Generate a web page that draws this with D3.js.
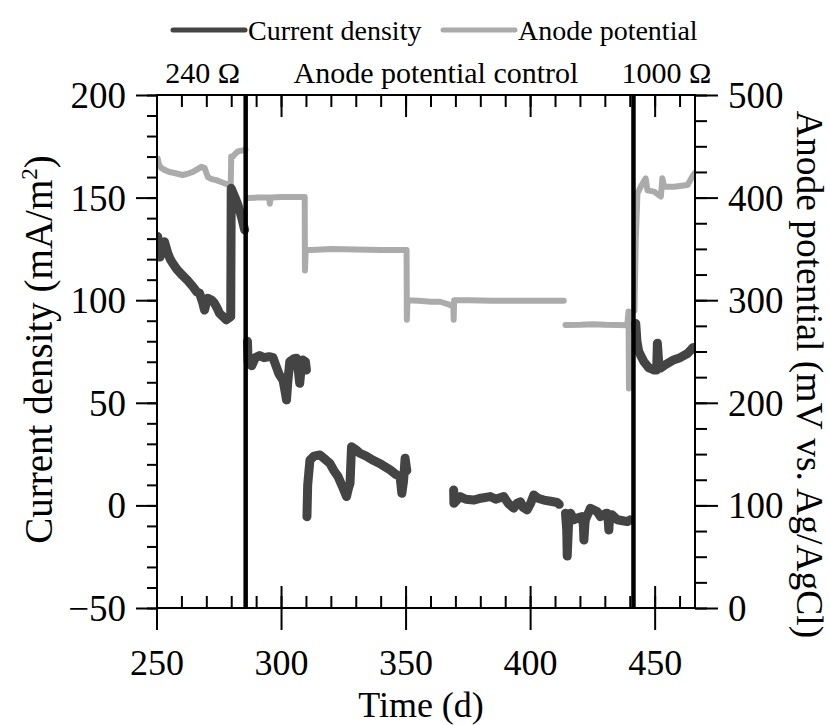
<!DOCTYPE html>
<html><head><meta charset="utf-8">
<script src="https://cdn.jsdelivr.net/npm/d3@7"></script>
<style>body{margin:0;background:#fff}svg{display:block}</style>
</head><body><svg id="c" width="830" height="725"></svg>
<script>
// ---- data ----
const cdDays = [250.3,250.8,251.2,252,253,254.3,255.3,256.3,258,260.3,262,264.4,266,267.1,268.3,269.1,269.8,270.4,272,273.1,274.2,275.1,276.5,277.8,279.1,279.6,279.8,281.2,282.5,283.9,285.2,null,
  286.3,286.6,288,289.5,291.2,293,295,296.6,297.9,299,300.6,301.5,302,302.5,303.3,305,306,306.8,307.3,307.8,308.5,309.6,310,null,
  310.2,310.5,311.4,313,315.4,317,319.4,321,322.7,324.5,326.1,326.8,327.5,328.1,330,331.5,334,336.8,340,343.6,346,347.6,348.3,349,349.6,350.3,null,
  369.1,369.2,371.7,374,377.1,380,383.8,386,389.2,391,393.2,394.5,395.9,397,398.6,400,401.3,403,405.3,408,410.7,411.5,null,
  414,414.5,414.7,415.2,416,417.4,419,420.7,421.2,421.4,421.8,422,424,425,426.7,428,430,430.7,431.2,431.4,431.7,432.7,434.8,437,438.8,440,null,
  442.2,442.7,443.4,445.5,447.5,449.6,450.6,450.9,451.4,452.3,454,457.6,460,463,465.3,466];
const cdValues = [131,124,121,127,128.5,123,120,118,115,112,110,106.6,104,103.4,99,95.2,99,101,100,98.5,96,93.6,92,90.4,91.5,92,154.5,150.4,146.4,140.7,134.2,null,
  80,70,68,72,73,72,72.5,72,67.6,64,61,55,51.4,60,70,71.5,71.7,65,59.5,66,70.9,70,66,null,
  -5.5,10,22,24,24.6,23,20.5,17,14,9,4.3,8,10.8,28.6,27,25.4,24,22,20,17.3,15,14,5.9,12,23,17,null,
  7.5,1,4.3,3,2.6,3.5,4.3,3,4.3,1,-1.4,1,1.8,-1,-2.2,1,5.1,3.5,2.6,2,1.4,0.5,null,
  -3.8,-12,-24.7,-10,-3.8,-7,-6,-5.4,-10,-16.9,-9,-7,-1.4,-2,-3,-5.4,-4,-3.8,-8,-12,-6,-4.6,-7,-7.5,-7.9,-7,null,
  88.7,80,75,70,67,66,66,79,70,67,68.5,71,72,74,77,76];

const apDays = [250.3,250.8,251.7,253,255,257,260.3,262,264.4,266.5,267.8,269.1,270.4,272,273.8,276,279.1,279.6,279.8,280.5,281.5,282.5,284.5,285.5,null,
  286.5,290,293,295,295.3,295.7,300,305,309.3,309.4,309.7,312,320,330,340,350.2,350.3,350.6,355,360,363.7,367,369,369.1,369.3,375,385,395,405,413.3,null,
  414,420,425,430,435,438.8,439.3,439.5,439.7,440.2,null,
  441.7,442.2,442.9,444.2,445.5,446.2,446.9,449.6,452.3,452.9,453.6,457.6,463,465.3,466];
const apValues = [438,432,429,427,425,424,422,423,425,428,430,429,420,418,417,415,412,413,440,440,443,445,446,447,null,
  399.5,400,400,400,394,400,400.5,400.5,400.5,329,349,349,350,349.5,349,349,281,300,299.5,298.5,298.5,296,293.7,281,300,300,299.5,299.5,299.5,299.5,null,
  275.8,276,276.5,276,275.8,275.5,289,214,276,276,null,
  290,358,404,410.6,416,418.8,407,405.8,401,418.8,410.6,410.6,412.3,422,424];

const switchDays = [285.6, 441.3];
const phaseLabels = ["240 Ω", "Anode potential control", "1000 Ω"];
const phaseLabelDays = [268.3, 362, 454.5];
const xTicks = [250, 300, 350, 400, 450];
const yLeftTicks = [-50, 0, 50, 100, 150, 200];
const yRightTicks = [0, 100, 200, 300, 400, 500];
const seriesNames = ["Current density", "Anode potential"];
const seriesColors = ["#444444", "#ababab"];

// ---- layout ----
const FF = "Liberation Serif";
const L = 157, R = 695, T = 95, B = 608;
const svg = d3.select("#c");
const x = d3.scaleLinear().domain([250, 466]).range([L, R]);
const yL = d3.scaleLinear().domain([-50, 200]).range([B, T]);
const yR = d3.scaleLinear().domain([0, 500]).range([B, T]);

const cdData = cdDays.map((d, i) => ({x: d, y: cdValues[i]}));
const apData = apDays.map((d, i) => ({x: d, y: apValues[i]}));

svg.append("clipPath").attr("id", "pc").append("rect")
  .attr("x", L).attr("y", T).attr("width", R - L).attr("height", B - T);
const plot = svg.append("g").attr("clip-path", "url(#pc)");

plot.append("path").datum(apData)
  .attr("d", d3.line().defined(d => d.x !== null && d.y !== null).x(d => x(d.x)).y(d => yR(d.y)))
  .attr("fill", "none").attr("stroke", seriesColors[1]).attr("stroke-width", 6)
  .attr("stroke-linejoin", "round").attr("stroke-linecap", "round");
plot.append("path").datum(cdData)
  .attr("d", d3.line().defined(d => d.x !== null && d.y !== null).x(d => x(d.x)).y(d => yL(d.y)))
  .attr("fill", "none").attr("stroke", seriesColors[0]).attr("stroke-width", 9)
  .attr("stroke-linejoin", "round").attr("stroke-linecap", "round");

svg.selectAll("line.sw").data(switchDays).enter().append("line")
  .attr("x1", d => x(d)).attr("x2", d => x(d)).attr("y1", T).attr("y2", B)
  .attr("stroke", "#000").attr("stroke-width", 4.5);

// ---- axes ----
const fs = 37;
const minorX = d3.range(250, 467, 10);
function styleAxis(g) {
  g.attr("font-family", FF);
  g.selectAll(".domain").remove();
  g.selectAll("line").attr("stroke", "#000").attr("stroke-width", 2);
}
const gB = svg.append("g");
gB.selectAll("line.mi").data(minorX).enter().append("line")
  .attr("x1", d => x(d)).attr("x2", d => x(d)).attr("y1", B).attr("y2", B - 12)
  .attr("stroke", "#000").attr("stroke-width", 2);
gB.selectAll("line.ma").data(xTicks).enter().append("line")
  .attr("x1", d => x(d)).attr("x2", d => x(d)).attr("y1", B - 22).attr("y2", B + 22)
  .attr("stroke", "#000").attr("stroke-width", 2);
gB.selectAll("text").data(xTicks).enter().append("text")
  .attr("x", d => x(d)).attr("y", 675).attr("text-anchor", "middle")
  .attr("font-family", FF).attr("font-size", 36).text(d => d);
const gT = svg.append("g");
gT.selectAll("line.mi").data(minorX).enter().append("line")
  .attr("x1", d => x(d)).attr("x2", d => x(d)).attr("y1", T).attr("y2", T + 12)
  .attr("stroke", "#000").attr("stroke-width", 2);
gT.selectAll("line.ma").data(xTicks).enter().append("line")
  .attr("x1", d => x(d)).attr("x2", d => x(d)).attr("y1", T).attr("y2", T + 22)
  .attr("stroke", "#000").attr("stroke-width", 2);

const gL = svg.append("g").attr("transform", `translate(${L},0)`)
  .call(d3.axisLeft(yL).tickValues(d3.range(-50, 201, 10)).tickSize(10).tickFormat(""));
styleAxis(gL);
const gL2 = svg.append("g").attr("transform", `translate(${L},0)`)
  .call(d3.axisLeft(yL).tickValues(yLeftTicks).tickSize(21).tickPadding(10));
styleAxis(gL2);
gL2.selectAll("text").attr("font-size", fs).attr("font-family", FF).attr("fill", "#000").attr("dy", "0.34em");

const gR = svg.append("g").attr("transform", `translate(${R},0)`)
  .call(d3.axisRight(yR).tickValues(d3.range(0, 501, 25)).tickSize(12).tickFormat(""));
styleAxis(gR);
const gR2 = svg.append("g").attr("transform", `translate(${R},0)`)
  .call(d3.axisRight(yR).tickValues(yRightTicks).tickSize(23).tickPadding(10));
styleAxis(gR2);
gR2.selectAll("text").attr("font-size", fs).attr("font-family", FF).attr("fill", "#000").attr("dy", "0.34em");

svg.append("rect").attr("x", L).attr("y", T).attr("width", R - L).attr("height", B - T)
  .attr("fill", "none").attr("stroke", "#000").attr("stroke-width", 2);

svg.append("text").attr("x", 421).attr("y", 717).attr("text-anchor", "middle")
  .attr("font-family", FF).attr("font-size", 36).text("Time (d)");
const lt = svg.append("text").attr("transform", `translate(52,${(T + B) / 2 - 2}) rotate(-90)`)
  .attr("text-anchor", "middle").attr("font-family", FF).attr("font-size", 39);
lt.append("tspan").text("Current density (mA/m");
lt.append("tspan").attr("dy", -15).attr("font-size", 23).text("2");
lt.append("tspan").attr("dy", 15).text(")");
svg.append("text").attr("transform", `translate(797,${(T + B) / 2 + 23}) rotate(90)`)
  .attr("text-anchor", "middle").attr("font-family", FF).attr("font-size", 37.5).text("Anode potential (mV vs. Ag/AgCl)");

svg.selectAll("text.ph").data(phaseLabels).enter().append("text")
  .attr("x", (d, i) => x(phaseLabelDays[i])).attr("y", 83).attr("text-anchor", "middle")
  .attr("font-family", FF).attr("font-size", 30).text(d => d);

const legX = [173, 443];
seriesNames.forEach((n, i) => {
  svg.append("line").attr("x1", legX[i]).attr("x2", legX[i] + 72).attr("y1", 30).attr("y2", 30)
    .attr("stroke", seriesColors[i]).attr("stroke-width", 5).attr("stroke-linecap", "round");
  svg.append("text").attr("x", legX[i] + 75).attr("y", 40).attr("font-family", FF).attr("font-size", 28).text(n);
});
</script></body></html>
